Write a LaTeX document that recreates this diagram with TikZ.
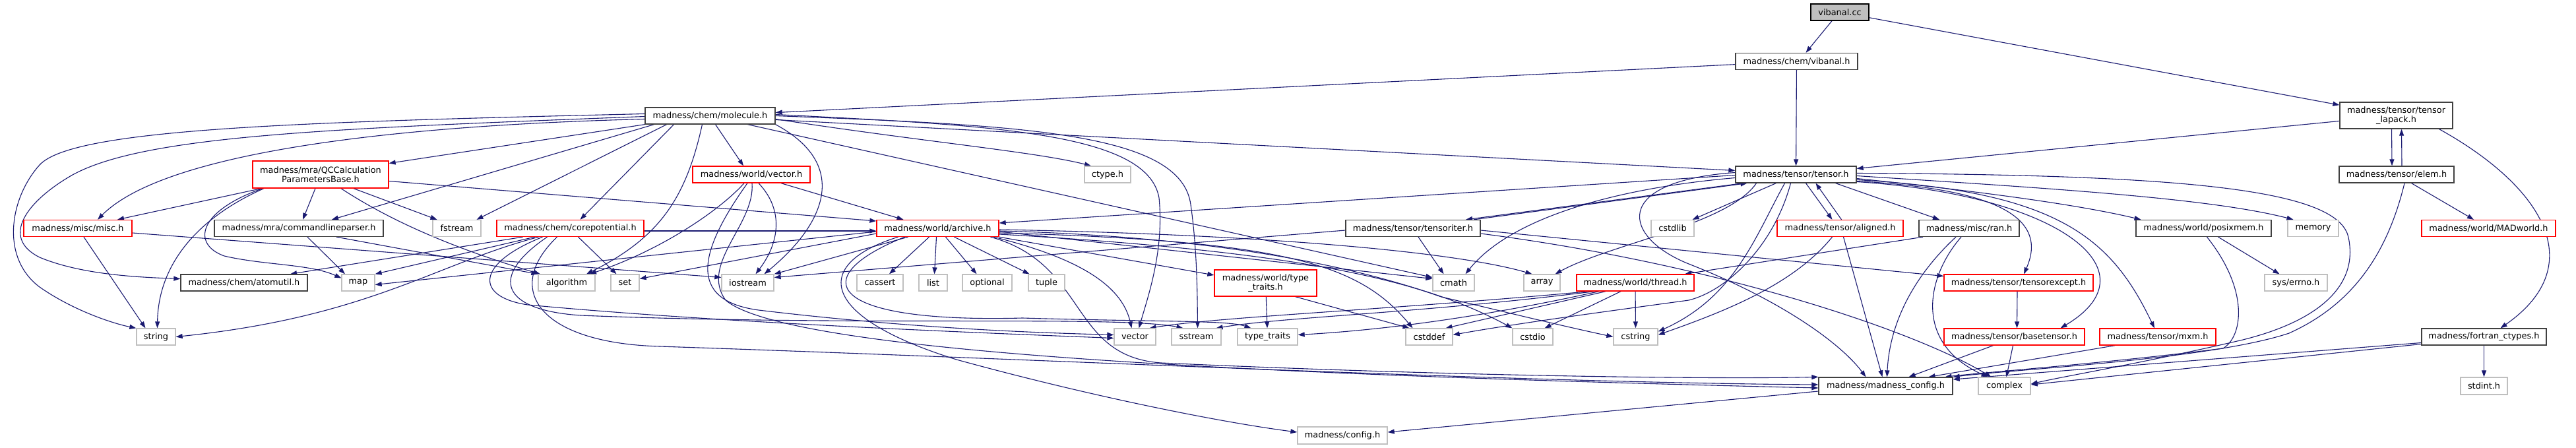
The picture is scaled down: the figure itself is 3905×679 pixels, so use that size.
\documentclass[tikz,border=0pt]{standalone}
\usepackage{fontspec}
\setmainfont{DejaVu Sans}
\usetikzlibrary{arrows.meta}
\pgfdeclarelayer{bg}
\pgfsetlayers{bg,main}
\definecolor{edgeblue}{HTML}{191970}
\definecolor{bdark}{HTML}{404040}
\definecolor{bgray}{HTML}{BFBFBF}
\definecolor{bred}{HTML}{FF0000}
\begin{document}
\begin{tikzpicture}[x=1pt,y=-1pt,
  nb/.style={draw=bdark,fill=white,line width=1.3pt,inner sep=0pt,minimum height=25pt,align=center,font=\fontsize{12.9}{14.5}\selectfont},
  nr/.style={nb,draw=bred},
  ng/.style={nb,draw=bgray},
  edg/.style={draw=edgeblue,line width=1.1pt,-{Triangle[length=10pt,width=7pt]}},
]
\useasboundingbox (0,0) rectangle (3905,679);
% ---------- nodes ----------
\node[nb,draw=black,fill=bgray,minimum width=88pt] (vibanal) at (2789,18.5) {vibanal.cc};
\node[nb,minimum width=185pt] (vibanalh) at (2723.5,93) {madness/chem/vibanal.h};
\node[nb,minimum width=197pt] (molecule) at (1076.5,175.5) {madness/chem/molecule.h};
\node[nb,minimum width=171pt,minimum height=40pt] (lapack) at (3632.5,175) {madness/tensor/tensor\\\_lapack.h};
\node[nb,minimum width=183pt] (tensor) at (2722.5,264.5) {madness/tensor/tensor.h};
\node[nr,minimum width=206pt,minimum height=41pt] (qccalc) at (486,264.5) {madness/mra/QCCalculation\\ParametersBase.h};
\node[nr,minimum width=178pt] (vectorh) at (1139,264.5) {madness/world/vector.h};
\node[ng,minimum width=70pt] (ctype) at (1679,264.5) {ctype.h};
\node[nb,minimum width=174pt] (elem) at (3633,264.5) {madness/tensor/elem.h};
% row 346
\node[nr,minimum width=164pt] (misc) at (118,346) {madness/misc/misc.h};
\node[nb,minimum width=256pt] (cmdline) at (453,346) {madness/mra/commandlineparser.h};
\node[ng,minimum width=73pt] (fstream) at (692.5,346) {fstream};
\node[nr,minimum width=223pt] (corepot) at (864.5,346) {madness/chem/corepotential.h};
\node[nr,minimum width=185pt] (archive) at (1421.5,346) {madness/world/archive.h};
\node[nb,minimum width=204pt] (tensoriter) at (2142,346) {madness/tensor/tensoriter.h};
\node[ng,minimum width=65pt] (cstdlib) at (2535.5,346) {cstdlib};
\node[nr,minimum width=191pt] (aligned) at (2789.5,346) {madness/tensor/aligned.h};
\node[nb,minimum width=152pt] (ran) at (2985,346) {madness/misc/ran.h};
\node[nb,minimum width=205pt] (posixmem) at (3340.5,346) {madness/world/posixmem.h};
\node[ng,minimum width=77pt] (memory) at (3506.5,346) {memory};
\node[nr,minimum width=203pt] (madworld) at (3772.5,346) {madness/world/MADworld.h};
% row 428
\node[nb,minimum width=192pt] (atomutil) at (370,428.5) {madness/chem/atomutil.h};
\node[ng,minimum width=50pt] (map) at (543,428.5) {map};
\node[ng,minimum width=86pt] (algorithm) at (859,428.5) {algorithm};
\node[ng,minimum width=43pt] (set) at (947.5,428.5) {set};
\node[ng,minimum width=79pt] (iostream) at (1133.5,428.5) {iostream};
\node[ng,minimum width=70pt] (cassert) at (1334,428.5) {cassert};
\node[ng,minimum width=43pt] (list) at (1414.5,428.5) {list};
\node[ng,minimum width=75pt] (optional) at (1496.5,428.5) {optional};
\node[ng,minimum width=55pt] (tuple) at (1586.5,428.5) {tuple};
\node[nr,minimum width=155pt,minimum height=40pt] (wtypetraits) at (1918.5,429) {madness/world/type\\\_traits.h};
\node[ng,minimum width=63pt] (cmath) at (2203.5,428.5) {cmath};
\node[ng,minimum width=55pt] (array) at (2337.5,428.5) {array};
\node[nr,minimum width=178pt] (thread) at (2479,428.5) {madness/world/thread.h};
\node[nr,minimum width=226pt] (tensorexcept) at (3060,428.5) {madness/tensor/tensorexcept.h};
\node[ng,minimum width=95pt] (errno) at (3480.5,428.5) {sys/errno.h};
% row 510
\node[ng,minimum width=59pt] (string) at (236.5,510.5) {string};
\node[ng,minimum width=63pt] (vector) at (1720.5,510.5) {vector};
\node[ng,minimum width=75pt] (sstream) at (1813.5,510.5) {sstream};
\node[ng,minimum width=91pt] (typetraits) at (1921.5,510.5) {type\_traits};
\node[ng,minimum width=71pt] (cstddef) at (2166.5,510.5) {cstddef};
\node[ng,minimum width=61pt] (cstdio) at (2323.5,510.5) {cstdio};
\node[ng,minimum width=67pt] (cstring) at (2479.5,510.5) {cstring};
\node[nr,minimum width=213pt] (basetensor) at (3053.5,510.5) {madness/tensor/basetensor.h};
\node[nr,minimum width=176pt] (mxm) at (3271,510.5) {madness/tensor/mxm.h};
\node[nb,minimum width=189pt] (fortran) at (3765.5,510.5) {madness/fortran\_ctypes.h};
% row 585
\node[nb,minimum width=203pt,minimum height=26pt] (madconfig) at (2858.5,585) {madness/madness\_config.h};
\node[ng,minimum width=79pt,minimum height=26pt] (complex) at (3038.5,585) {complex};
\node[ng,minimum width=71pt,minimum height=26pt] (stdint) at (3765.5,585) {stdint.h};
\node[ng,minimum width=136pt,minimum height=26pt] (config) at (2035,660) {madness/config.h};
% ---------- edges ----------
\begin{pgfonlayer}{bg}
% vibanal.cc
\draw[edg] ([xshift=-12pt]vibanal.south) -- ([xshift=14pt]vibanalh.north);
\draw[edg] (vibanal) -- (lapack);
% vibanal.h
\draw[edg] (vibanalh) -- (molecule);
\draw[edg] (vibanalh) -- (tensor);
% tensor_lapack.h / elem.h
\draw[edg] (lapack) -- (tensor);
\draw[edg] ([xshift=-7pt]lapack.south) -- ([xshift=-7pt]elem.north);
\draw[edg] ([xshift=8pt]elem.north) -- ([xshift=8pt]lapack.south);
\draw[edg] ([xshift=65pt]lapack.south) .. controls (3850,280) and (3930,400) .. ([xshift=25pt]fortran.north);
\draw[edg] (elem) -- (madworld);
\draw[edg] ([xshift=12pt]elem.south) .. controls (3620,380) and (3570,460) .. (3470,505) .. controls (3350,545) and (3050,560) .. (madconfig.north east);
% tensor.h
\draw[edg] ([yshift=-1pt]tensor.west) -- ([yshift=8pt]archive.east);
\draw[edg] ([xshift=-80pt]tensor.south) -- ([xshift=80pt]tensoriter.north);
\draw[edg] ([xshift=92pt]tensoriter.north) -- ([xshift=-74pt]tensor.south);
\draw[edg] (tensor) -- (cstdlib);
\draw[edg] ([xshift=15pt]tensor.south) -- ([xshift=-12pt]aligned.north);
\draw[edg] ([xshift=2pt]aligned.north) -- ([xshift=30pt]tensor.south);
\draw[edg] ([xshift=60pt]tensor.south) -- ([xshift=-45pt]ran.north);
\draw[edg] ([yshift=-6pt]tensor.east) .. controls (3000,290) and (3150,310) .. ([xshift=-95pt]posixmem.north);
\draw[edg] ([yshift=-2pt]tensor.east) .. controls (3100,285) and (3350,300) .. ([xshift=-30pt]memory.north);
\draw[edg] ([yshift=-10pt]tensor.east) .. controls (3000,285) and (3110,320) .. ([xshift=8pt]tensorexcept.north);
\draw[edg] ([yshift=-11pt]tensor.east) .. controls (3120,295) and (3270,410) .. ([xshift=70pt]basetensor.north);
\draw[edg] ([yshift=-8pt]tensor.east) .. controls (3120,290) and (3200,360) .. ([xshift=-5pt]mxm.north);
\draw[edg] ([yshift=2pt]tensor.east) .. controls (3300,265) and (3545,285) .. (3560,360) .. controls (3575,430) and (3520,485) .. (3400,515) .. controls (3250,550) and (3130,570) .. ([yshift=3pt]complex.east);
\draw[edg] ([yshift=-5pt]tensor.west) .. controls (2450,285) and (2290,330) .. ([xshift=18pt]cmath.north);
\draw[edg] ([xshift=-60pt]tensor.south) .. controls (2620,340) and (2440,370) .. ([xshift=20pt]array.north);
\draw[edg] ([xshift=-17pt]tensor.south) .. controls (2660,360) and (2630,450) .. ([yshift=8pt]cstring.east);
\draw[edg] ([xshift=-8pt]tensor.south) .. controls (2690,370) and (2620,440) .. (2560,455) .. controls (2450,470) and (2300,490) .. ([yshift=3pt]cstddef.east);
\draw[edg] ([yshift=3pt]tensor.west) .. controls (2440,275) and (2460,360) .. (2560,400) .. controls (2700,455) and (2790,520) .. ([xshift=-30pt]madconfig.north);
% tensoriter.h
\draw[edg] ([xshift=8pt]tensoriter.south) -- ([xshift=-15pt]cmath.north);
\draw[edg] ([yshift=-3pt]tensoriter.east) -- ([yshift=10pt]tensorexcept.west);
\draw[edg] ([yshift=-8pt]tensoriter.east) .. controls (2600,400) and (2900,500) .. ([xshift=-20pt]complex.north);
\draw[edg] ([yshift=-3pt]tensoriter.west) -- ([yshift=8pt]iostream.east);
% archive.h
\draw[edg] ([xshift=-13pt]archive.south) -- ([xshift=14pt]cassert.north);
\draw[edg] ([xshift=-2pt]archive.south) -- ([xshift=2pt]list.north);
\draw[edg] ([xshift=12pt]archive.south) -- ([xshift=-16pt]optional.north);
\draw[edg] ([xshift=25pt]archive.south) -- ([xshift=-26pt]tuple.north);
\draw[edg] ([xshift=-45pt]archive.south) -- (iostream.north east);
\draw[edg] ([yshift=-5pt]archive.west) -- ([yshift=-3pt]map.east);
\draw[edg] ([yshift=-8pt]archive.west) -- ([yshift=6pt]set.east);
\draw[edg] ([xshift=85pt]archive.south) .. controls (1630,390) and (1700,430) .. ([xshift=-5pt]vector.north);
\draw[edg] (archive.south east) -- ([yshift=12pt]wtypetraits.west);
\draw[edg] ([xshift=-60pt]archive.south) .. controls (1230,400) and (1240,480) .. (1450,545) .. controls (1650,600) and (1850,640) .. ([yshift=5pt]config.west);
\draw[edg] ([xshift=-50pt]archive.south) .. controls (1220,420) and (1250,490) .. (1550,482) .. controls (1750,488) and (1860,485) .. ([xshift=-25pt]typetraits.north);
\draw[edg] ([xshift=80pt]archive.south) .. controls (1650,400) and (1620,540) .. (1760,550) .. controls (2200,570) and (2600,575) .. (madconfig.north west);
\draw[edg] ([yshift=-5pt]archive.east) -- ([yshift=6pt]cmath.west);
\draw[edg] ([yshift=-7pt]archive.east) .. controls (1950,365) and (2060,400) .. ([xshift=-25pt]cstddef.north);
\draw[edg] ([yshift=-9pt]archive.east) .. controls (1950,380) and (2150,420) .. (cstdio.north west);
\draw[edg] ([yshift=-4pt]archive.east) .. controls (1900,360) and (2100,420) .. (2185,450) .. controls (2250,465) and (2350,490) .. (cstring.west);
\draw[edg] ([yshift=-2pt]archive.east) .. controls (1900,355) and (2200,380) .. ([xshift=-15pt]array.north);
% molecule.h
\draw[edg] (molecule.south west) -- ([yshift=17pt]qccalc.east);
\draw[edg] ([yshift=-5pt]molecule.west) .. controls (600,190) and (250,230) .. ([xshift=30pt]misc.north);
\draw[edg] ([yshift=3pt]molecule.west) .. controls (450,185) and (110,195) .. (60,250) .. controls (15,300) and (0,390) .. (60,435) .. controls (110,470) and (170,490) .. (string.north west);
\draw[edg] ([yshift=-1pt]molecule.west) .. controls (500,195) and (220,205) .. (110,265) .. controls (40,305) and (0,360) .. (60,390) .. controls (120,415) and (200,420) .. ([yshift=6pt]atomutil.west);
\draw[edg] ([xshift=-85pt]molecule.south) -- ([xshift=50pt]cmdline.north);
\draw[edg] ([xshift=-66pt]molecule.south) -- ([xshift=30pt]fstream.north);
\draw[edg] ([xshift=-55pt]molecule.south) -- ([xshift=15pt]corepot.north);
\draw[edg] ([xshift=-12pt]molecule.south) .. controls (1040,300) and (1000,360) .. ([xshift=30pt]algorithm.north);
\draw[edg] ([xshift=8pt]molecule.south) -- ([xshift=-12pt]vectorh.north);
\draw[edg] (molecule.south east) .. controls (1290,250) and (1250,340) .. ([xshift=25pt]iostream.north);
\draw[edg] ([yshift=-5pt]molecule.east) .. controls (1400,215) and (1570,230) .. ([xshift=-25pt]ctype.north);
\draw[edg] ([xshift=57pt]molecule.south) -- ([yshift=8pt]cmath.west);
\draw[edg] ([yshift=2pt]molecule.east) .. controls (1500,190) and (1740,200) .. (1757,300) .. controls (1765,380) and (1740,450) .. ([xshift=6pt]vector.north);
\draw[edg] (molecule.east) .. controls (1550,190) and (1790,200) .. (1805,310) .. controls (1815,380) and (1815,450) .. ([xshift=2pt]sstream.north);
\draw[edg] ([yshift=-6pt]molecule.east) -- ([yshift=6pt]tensor.west);
% QCCalculationParametersBase.h
\draw[edg] ([xshift=-90pt]qccalc.south) -- ([xshift=60pt]misc.north);
\draw[edg] ([xshift=-8pt]qccalc.south) -- ([xshift=6pt]cmdline.north);
\draw[edg] ([xshift=50pt]qccalc.south) -- ([xshift=-30pt]fstream.north);
\draw[edg] ([xshift=31pt]qccalc.south) .. controls (600,340) and (700,380) .. ([xshift=-40pt]algorithm.north);
\draw[edg] ([yshift=-10pt]qccalc.east) -- ([yshift=11pt]archive.west);
\draw[edg] ([xshift=-88pt]qccalc.south) .. controls (300,320) and (290,370) .. (340,388) .. controls (400,402) and (470,400) .. ([yshift=7pt]map.west);
\draw[edg] ([xshift=-86pt]qccalc.south) .. controls (300,330) and (240,400) .. ([xshift=2pt]string.north);
% misc.h
\draw[edg] ([xshift=9pt]misc.south) -- ([xshift=-16pt]string.north);
\draw[edg] ([yshift=-7pt]misc.east) -- ([yshift=8pt]iostream.west);
% commandlineparser.h
\draw[edg] ([xshift=13pt]cmdline.south) -- ([xshift=-20pt]map.north);
\draw[edg] ([xshift=57pt]cmdline.south) -- (algorithm.north west);
% corepotential.h
\draw[edg] ([xshift=-72pt]corepot.south) -- ([xshift=70pt]atomutil.north);
\draw[edg] ([xshift=-54pt]corepot.south) -- (map.north east);
\draw[edg] ([xshift=-48pt]corepot.south) .. controls (660,400) and (560,480) .. (string.east);
\draw[edg] ([xshift=12pt]corepot.south) -- ([xshift=-13pt]set.north);
\draw[edg] ([xshift=-42pt]corepot.south) .. controls (720,400) and (720,450) .. (800,462) .. controls (1100,490) and (1500,505) .. ([yshift=-2pt]vector.west);
\draw[edg] ([xshift=-35pt]corepot.south) .. controls (740,420) and (760,470) .. (880,478) .. controls (1300,495) and (1700,478) .. ([xshift=-20pt]sstream.north);
\draw[edg] ([xshift=-20pt]corepot.south) .. controls (760,440) and (820,520) .. (1000,525) .. controls (1600,545) and (2300,580) .. ([yshift=2pt]madconfig.west);
\draw[edg] ([yshift=-4pt]corepot.east) -- ([yshift=-4pt]archive.west);
% vector.h
\draw[edg] ([xshift=-11pt]vectorh.south) .. controls (1090,320) and (1000,380) .. ([xshift=35pt]algorithm.north);
\draw[edg] ([xshift=-6pt]vectorh.south) .. controls (1060,380) and (1040,455) .. (1150,470) .. controls (1400,500) and (1600,505) .. ([yshift=3pt]vector.west);
\draw[edg] ([xshift=1pt]vectorh.south) .. controls (1145,340) and (1060,400) .. (1100,455) .. controls (1200,540) and (2000,570) .. ([yshift=-3pt]madconfig.west);
\draw[edg] ([xshift=11pt]vectorh.south) .. controls (1190,320) and (1180,370) .. ([xshift=12pt]iostream.north);
\draw[edg] ([xshift=45pt]vectorh.south) -- ([xshift=-52pt]archive.north);
% world/type_traits.h
\draw[edg] (wtypetraits) -- (typetraits);
\draw[edg] ([xshift=45pt]wtypetraits.south) -- ([xshift=-30pt]cstddef.north);
% thread.h
\draw[edg] ([xshift=-70pt]thread.south) .. controls (2100,470) and (1850,480) .. ([xshift=22pt]vector.north);
\draw[edg] ([xshift=-62pt]thread.south) .. controls (2150,475) and (1950,480) .. ([xshift=30pt]sstream.north);
\draw[edg] ([xshift=-55pt]thread.south) .. controls (2250,480) and (2100,500) .. ([yshift=3pt]typetraits.east);
\draw[edg] ([xshift=-45pt]thread.south) -- ([xshift=25pt]cstddef.north);
\draw[edg] ([xshift=-22pt]thread.south) -- ([xshift=18pt]cstdio.north);
\draw[edg] (thread) -- (cstring);
% ran.h
\draw[edg] ([xshift=-70pt]ran.south) -- ([xshift=75pt]thread.north);
\draw[edg] ([xshift=-20pt]ran.south) .. controls (2910,410) and (2865,480) .. ([xshift=2pt]madconfig.north);
\draw[edg] ([xshift=-12pt]ran.south) .. controls (2920,420) and (2900,520) .. ([xshift=-25pt]complex.north);
% aligned.h
\draw[edg] ([xshift=5pt]aligned.south) -- ([xshift=-5pt]madconfig.north);
\draw[edg] ([xshift=-12pt]aligned.south) .. controls (2720,430) and (2620,470) .. ([yshift=3pt]cstring.east);
% tensorexcept / basetensor / mxm / posixmem / fortran
\draw[edg] ([xshift=-2pt]tensorexcept.south) -- ([xshift=4pt]basetensor.north);
\draw[edg] ([xshift=-32pt]basetensor.south) -- ([xshift=35pt]madconfig.north);
\draw[edg] ([xshift=-2pt]basetensor.south) -- ([xshift=3pt]complex.north);
\draw[edg] ([xshift=-65pt]mxm.south) -- ([xshift=65pt]madconfig.north);
\draw[edg] ([xshift=22pt]posixmem.south) -- ([xshift=-25pt]errno.north);
\draw[edg] ([xshift=5pt]posixmem.south) .. controls (3410,440) and (3400,510) .. (3370,528) .. controls (3200,550) and (3000,565) .. ([xshift=90pt]madconfig.north);
\draw[edg] ([yshift=-9pt]fortran.west) -- ([yshift=10pt]madconfig.east);
\draw[edg] ([yshift=-11pt]fortran.west) -- ([yshift=2pt]complex.east);
\draw[edg] (fortran) -- (stdint);
% madness_config.h
\draw[edg] ([yshift=-8pt]madconfig.west) -- ([yshift=5pt]config.east);
\end{pgfonlayer}
\end{tikzpicture}
\end{document}
